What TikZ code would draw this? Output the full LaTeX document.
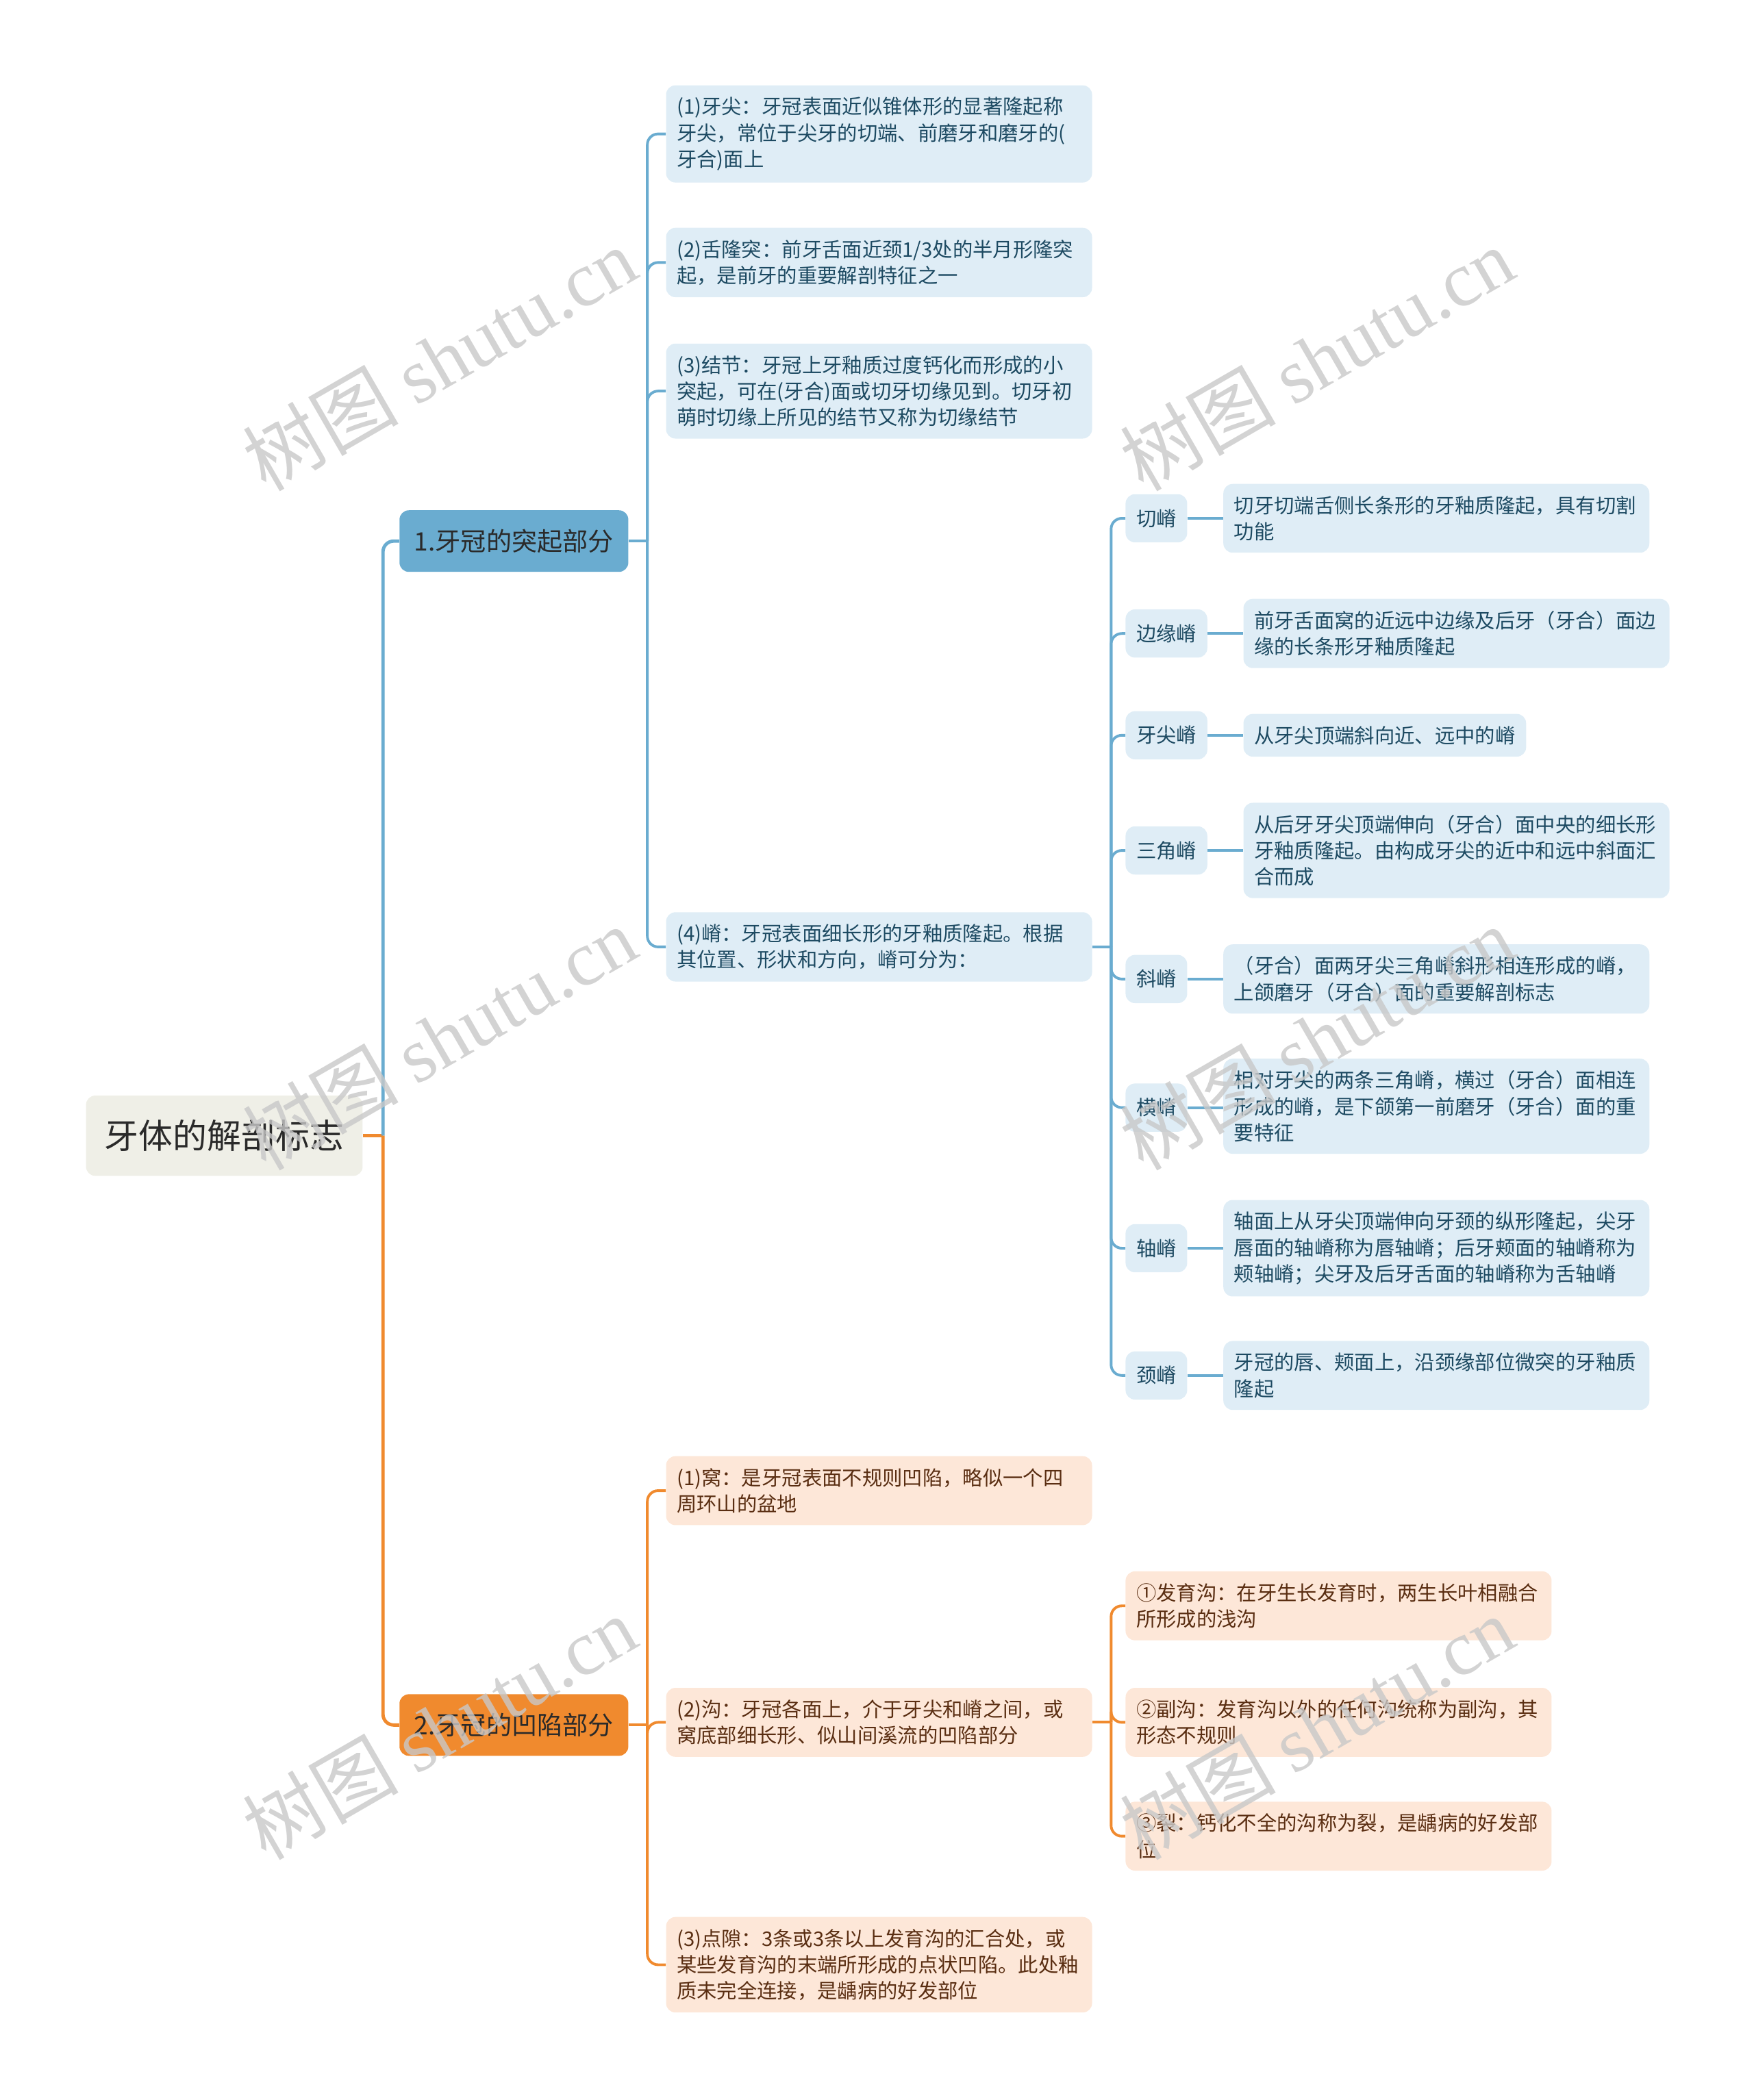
\documentclass[tikz,border=0pt]{standalone}
\usepackage{fontspec}
\setmainfont{Noto Sans CJK SC}
\newfontfamily\wmfont{Liberation Serif}

\definecolor{bluelink}{HTML}{6AACD0}
\definecolor{bluefill}{HTML}{DFEDF6}
\definecolor{bluetext}{HTML}{1D4A62}
\definecolor{orangelink}{HTML}{F08A2E}
\definecolor{orangefill}{HTML}{FDE7D8}
\definecolor{orangetext}{HTML}{5A2E12}
\definecolor{rootfill}{HTML}{EFEFE7}
\definecolor{darktext}{HTML}{2A2A2A}
\definecolor{wmgray}{HTML}{C8C8C8}

\tikzset{
  rootbox/.style={fill=rootfill, text=darktext, rounded corners=7pt, inner xsep=14pt,
    minimum height=60pt, font=\fontsize{25.5}{30}\selectfont},
  topicbox/.style={rounded corners=7pt, inner xsep=11pt, minimum height=46pt,
    text=darktext, font=\fontsize{19}{23}\selectfont},
  itembox/.style={rounded corners=7pt, inner xsep=8pt, inner ysep=9pt, align=left,
    text width=302pt, font=\fontsize{15}{19.5}\selectfont},
  ridgebox/.style={fill=bluefill, text=bluetext, rounded corners=7pt, inner xsep=8pt,
    minimum height=36pt, font=\fontsize{15}{18}\selectfont},
  bitem/.style={itembox, fill=bluefill, text=bluetext},
  oitem/.style={itembox, fill=orangefill, text=orangetext},
  blink/.style={draw=bluelink, line width=2pt, rounded corners=8pt},
  olink/.style={draw=orangelink, line width=2pt, rounded corners=8pt},
  wmark/.style={text=wmgray, opacity=0.8, rotate=30, font=\fontsize{58}{58}\selectfont}
}

\begin{document}
\begin{tikzpicture}[x=1pt, y=-1pt]

\useasboundingbox (0,0) rectangle (1309,1568);

% Root and main topics
\node[rootbox, anchor=west] (root) at (64,848) {牙体的解剖标志};
\node[topicbox, fill=bluelink, anchor=west] (rise) at (298,404) {1.牙冠的突起部分};
\node[topicbox, fill=orangelink, anchor=west] (sink) at (298,1288) {2.牙冠的凹陷部分};

% Raised parts
\node[bitem, anchor=west] (cusp) at (497,100) {(1)牙尖：牙冠表面近似锥体形的显著隆起称\\牙尖，常位于尖牙的切端、前磨牙和磨牙的(\\牙合)面上};
\node[bitem, anchor=west] (cingulum) at (497,196) {(2)舌隆突：前牙舌面近颈1/3处的半月形隆突\\起，是前牙的重要解剖特征之一};
\node[bitem, anchor=west] (tubercle) at (497,292) {(3)结节：牙冠上牙釉质过度钙化而形成的小\\突起，可在(牙合)面或切牙切缘见到。切牙初\\萌时切缘上所见的结节又称为切缘结节};
\node[bitem, anchor=west] (ridge) at (497,707) {(4)嵴：牙冠表面细长形的牙釉质隆起。根据\\其位置、形状和方向，嵴可分为：};

% Kinds of ridges
\node[ridgebox, anchor=west] (incisal) at (840,387) {切嵴};
\node[ridgebox, anchor=west] (marginal) at (840,473) {边缘嵴};
\node[ridgebox, anchor=west] (cuspridge) at (840,549) {牙尖嵴};
\node[ridgebox, anchor=west] (triangular) at (840,635) {三角嵴};
\node[ridgebox, anchor=west] (oblique) at (840,731) {斜嵴};
\node[ridgebox, anchor=west] (transverse) at (840,827) {横嵴};
\node[ridgebox, anchor=west] (axial) at (840,932) {轴嵴};
\node[ridgebox, anchor=west] (cervical) at (840,1027) {颈嵴};

\node[bitem, anchor=west] (incisaltxt) at (913,387) {切牙切端舌侧长条形的牙釉质隆起，具有切割\\功能};
\node[bitem, anchor=west] (marginaltxt) at (928,473) {前牙舌面窝的近远中边缘及后牙（牙合）面边\\缘的长条形牙釉质隆起};
\node[bitem, anchor=west, text width=195pt] (cuspridgetxt) at (928,549) {从牙尖顶端斜向近、远中的嵴};
\node[bitem, anchor=west] (triangulartxt) at (928,635) {从后牙牙尖顶端伸向（牙合）面中央的细长形\\牙釉质隆起。由构成牙尖的近中和远中斜面汇\\合而成};
\node[bitem, anchor=west] (obliquetxt) at (913,731) {（牙合）面两牙尖三角嵴斜形相连形成的嵴，\\上颌磨牙（牙合）面的重要解剖标志};
\node[bitem, anchor=west] (transversetxt) at (913,826) {相对牙尖的两条三角嵴，横过（牙合）面相连\\形成的嵴，是下颌第一前磨牙（牙合）面的重\\要特征};
\node[bitem, anchor=west] (axialtxt) at (913,932) {轴面上从牙尖顶端伸向牙颈的纵形隆起，尖牙\\唇面的轴嵴称为唇轴嵴；后牙颊面的轴嵴称为\\颊轴嵴；尖牙及后牙舌面的轴嵴称为舌轴嵴};
\node[bitem, anchor=west] (cervicaltxt) at (913,1027) {牙冠的唇、颊面上，沿颈缘部位微突的牙釉质\\隆起};

% Sunken parts
\node[oitem, anchor=west] (fossa) at (497,1113) {(1)窝：是牙冠表面不规则凹陷，略似一个四\\周环山的盆地};
\node[oitem, anchor=west] (groove) at (497,1286) {(2)沟：牙冠各面上，介于牙尖和嵴之间，或\\窝底部细长形、似山间溪流的凹陷部分};
\node[oitem, anchor=west] (pit) at (497,1467) {(3)点隙：3条或3条以上发育沟的汇合处，或\\某些发育沟的末端所形成的点状凹陷。此处釉\\质未完全连接，是龋病的好发部位};

\node[oitem, anchor=west] (devgroove) at (840,1199) {①发育沟：在牙生长发育时，两生长叶相融合\\所形成的浅沟};
\node[oitem, anchor=west] (supgroove) at (840,1286) {②副沟：发育沟以外的任何沟统称为副沟，其\\形态不规则};
\node[oitem, anchor=west] (fissure) at (840,1371) {③裂：钙化不全的沟称为裂，是龋病的好发部\\位};

% Root connectors
\draw[orangelink, line width=2.5pt] (root.east) -- ([xshift=15pt]root.east);
\draw[blink, line width=2.5pt] ([xshift=15pt]root.east) |- (rise.west);
\draw[olink, line width=2.5pt] ([xshift=15pt]root.east) |- (sink.west);

% Raised part connectors
\draw[blink] (rise.east) -- ([xshift=14pt]rise.east);
\draw[blink] ([xshift=14pt]rise.east) |- (cusp.west);
\draw[blink] ([xshift=14pt]rise.east) |- (cingulum.west);
\draw[blink] ([xshift=14pt]rise.east) |- (tubercle.west);
\draw[blink] ([xshift=14pt]rise.east) |- (ridge.west);

\draw[blink] (ridge.east) -- ([xshift=14pt]ridge.east);
\draw[blink] ([xshift=14pt]ridge.east) |- (incisal.west);
\draw[blink] ([xshift=14pt]ridge.east) |- (marginal.west);
\draw[blink] ([xshift=14pt]ridge.east) |- (cuspridge.west);
\draw[blink] ([xshift=14pt]ridge.east) |- (triangular.west);
\draw[blink] ([xshift=14pt]ridge.east) |- (oblique.west);
\draw[blink] ([xshift=14pt]ridge.east) |- (transverse.west);
\draw[blink] ([xshift=14pt]ridge.east) |- (axial.west);
\draw[blink] ([xshift=14pt]ridge.east) |- (cervical.west);

\draw[blink] (incisal) -- (incisaltxt);
\draw[blink] (marginal) -- (marginaltxt);
\draw[blink] (cuspridge) -- (cuspridgetxt);
\draw[blink] (triangular) -- (triangulartxt);
\draw[blink] (oblique) -- (obliquetxt);
\draw[blink] (transverse.east) -- (transversetxt.west |- transverse.east);
\draw[blink] (axial) -- (axialtxt);
\draw[blink] (cervical) -- (cervicaltxt);

% Sunken part connectors
\draw[olink] (sink.east) -- ([xshift=14pt]sink.east);
\draw[olink] ([xshift=14pt]sink.east) |- (fossa.west);
\draw[olink] ([xshift=14pt]sink.east) |- (groove.west);
\draw[olink] ([xshift=14pt]sink.east) |- (pit.west);

\draw[olink] (groove.east) -- ([xshift=14pt]groove.east);
\draw[olink] ([xshift=14pt]groove.east) |- (devgroove.west);
\draw[olink] ([xshift=14pt]groove.east) |- (supgroove.west);
\draw[olink] ([xshift=14pt]groove.east) |- (fissure.west);

% Watermarks
\node[wmark] (wm1) at (328,268) {树图 {\wmfont shutu.cn}};
\node[wmark] (wm2) at (983,268) {树图 {\wmfont shutu.cn}};
\node[wmark] (wm3) at (328,775) {树图 {\wmfont shutu.cn}};
\node[wmark] (wm4) at (983,775) {树图 {\wmfont shutu.cn}};
\node[wmark] (wm5) at (328,1290) {树图 {\wmfont shutu.cn}};
\node[wmark] (wm6) at (983,1290) {树图 {\wmfont shutu.cn}};

\end{tikzpicture}
\end{document}
